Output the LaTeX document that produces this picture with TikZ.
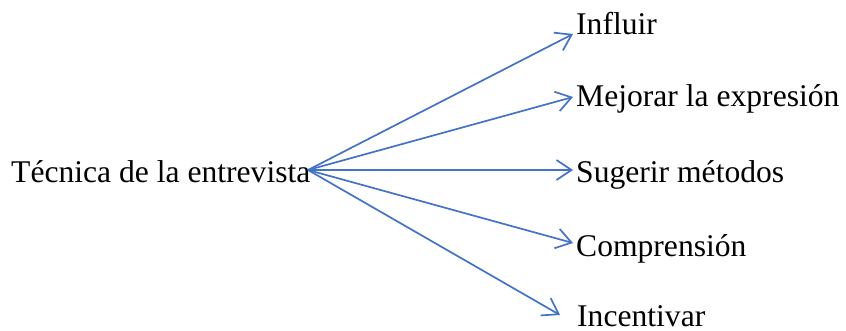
\documentclass[tikz,border=0pt]{standalone}
\usepackage{fontspec}
\setmainfont{Liberation Serif}
\usetikzlibrary{arrows.meta}
\definecolor{linkblue}{HTML}{4472C4}
\tikzset{
  lbl/.style={inner sep=0pt, anchor=base west, font=\fontsize{31.6}{38}\selectfont},
  conn/.style={draw=linkblue, line width=1.7pt, -{Straight Barb[length=15pt,width=20pt,line width=1.7pt]}}
}
\begin{document}
\begin{tikzpicture}[x=1pt,y=-1pt]
\useasboundingbox (0,0) rectangle (846,331);
\node[lbl] (src) at (11,183) {Técnica de la entrevista};
\node[lbl] (n1) at (576,35) {Influir};
\node[lbl] (n2) at (576,107) {Mejorar la expresión};
\node[lbl] (n3) at (576,183) {Sugerir métodos};
\node[lbl] (n4) at (576,257) {Comprensión};
\node[lbl] (n5) at (577,326) {Incentivar};
\coordinate (o) at (308,170);
\coordinate (t1) at (573,34);
\coordinate (t2) at (573,97);
\coordinate (t3) at (573,170);
\coordinate (t4) at (573,243);
\coordinate (t5) at (560,315);
\foreach \t in {t1,t2,t3,t4,t5} \draw[conn] (o) -- (\t);
\end{tikzpicture}
\end{document}
